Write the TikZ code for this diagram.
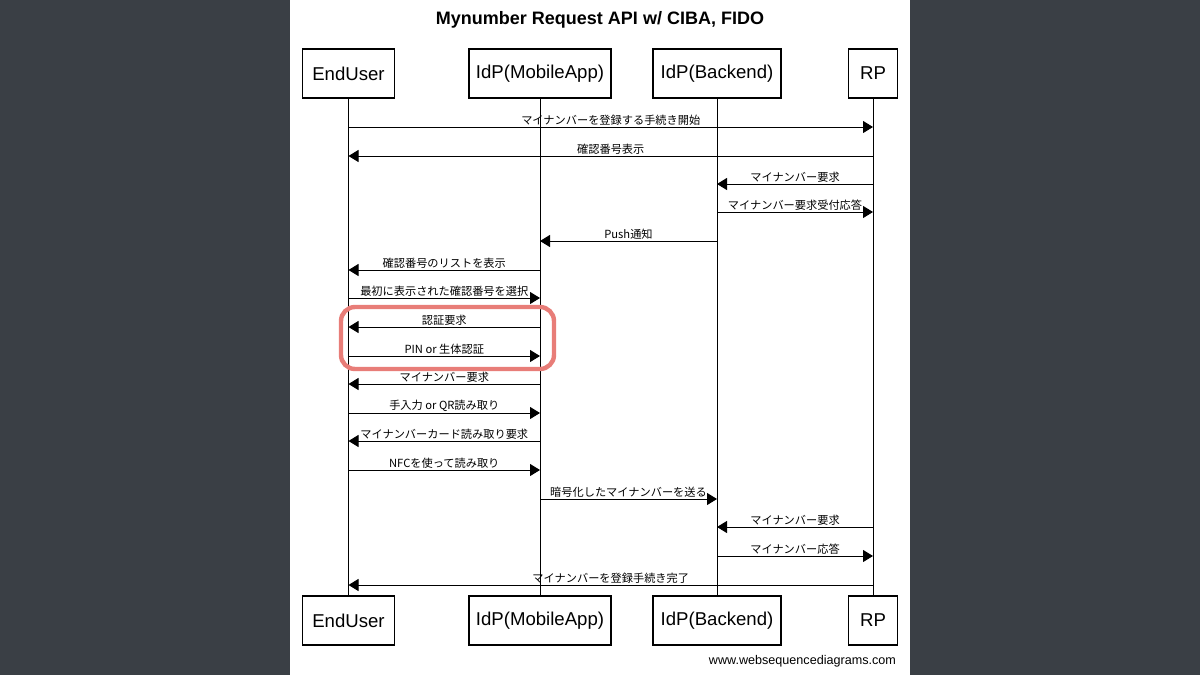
\documentclass[tikz,border=0pt]{standalone}
\usepackage{fontspec}
\setmainfont{Liberation Sans}
\newfontfamily\cjk{Noto Sans CJK JP}
\usetikzlibrary{arrows.meta,positioning}
\definecolor{slate}{RGB}{58,63,69}
\definecolor{hilite}{RGB}{232,125,120}
\tikzset{
  actor/.style={draw, line width=0.6pt, minimum height=24.5pt, inner xsep=1pt, font=\fontsize{9.3}{11}\selectfont},
  lifeline/.style={draw, line width=0.5pt},
  msgline/.style={draw, line width=0.5pt, -{Triangle[length=5pt,width=6pt]}},
  msglabel/.style={font=\cjk\fontsize{5.6}{6}\selectfont, above=-0.5pt, inner sep=1pt}
}
\newcommand{\msg}[4]{%
  \draw[msgline] (#1.south |- 0,#3) -- node[msglabel] {#4} (#2.south |- 0,#3);}
\begin{document}
\begin{tikzpicture}[x=0.5pt, y=-0.5pt]
  % Background
  \fill[slate] (0,0) rectangle (1200,675);
  \fill[white] (290,0) rectangle (910,675);
  \useasboundingbox (0,0) rectangle (1200,675);

  % Title
  \node[font=\bfseries\fontsize{9}{11}\selectfont] (title) at (600,20) {Mynumber Request API w/ CIBA, FIDO};

  % Participants
  \node[actor, minimum width=46pt] (eu) at (348.5,73.5) {EndUser};
  \node[actor, minimum width=71pt] (ma) at (540,73.5) {IdP(MobileApp)};
  \node[actor, minimum width=64pt] (be) at (717,73.5) {IdP(Backend)};
  \node[actor, minimum width=24.5pt] (rp) at (873,73.5) {RP};
  \node[actor, minimum width=46pt] (eu2) at (348.5,620.5) {EndUser};
  \node[actor, minimum width=71pt] (ma2) at (540,620.5) {IdP(MobileApp)};
  \node[actor, minimum width=64pt] (be2) at (717,620.5) {IdP(Backend)};
  \node[actor, minimum width=24.5pt] (rp2) at (873,620.5) {RP};

  % Lifelines
  \foreach \a in {eu, ma, be, rp}
    \draw[lifeline] (\a.south) -- (\a2.north);

  % Messages
  \msg{eu}{rp}{127}{マイナンバーを登録する手続き開始}
  \msg{rp}{eu}{156}{確認番号表示}
  \msg{rp}{be}{184}{マイナンバー要求}
  \msg{be}{rp}{212}{マイナンバー要求受付応答}
  \msg{be}{ma}{241}{Push通知}
  \msg{ma}{eu}{270}{確認番号のリストを表示}
  \msg{eu}{ma}{298}{最初に表示された確認番号を選択}
  \msg{ma}{eu}{327}{認証要求}
  \msg{eu}{ma}{356}{PIN or 生体認証}
  \msg{ma}{eu}{384}{マイナンバー要求}
  \msg{eu}{ma}{413}{手入力 or QR読み取り}
  \msg{ma}{eu}{441}{マイナンバーカード読み取り要求}
  \msg{eu}{ma}{470}{NFCを使って読み取り}
  \msg{ma}{be}{499}{暗号化したマイナンバーを送る}
  \msg{rp}{be}{527}{マイナンバー要求}
  \msg{be}{rp}{556}{マイナンバー応答}
  \msg{rp}{eu}{585}{マイナンバーを登録手続き完了}

  % Highlight
  \draw[hilite, line width=2.2pt, rounded corners=7pt] (341,307) rectangle (554,369);

  % Footer
  \node[anchor=east, font=\fontsize{6.3}{7}\selectfont] (footer) at (903,661) {www.websequencediagrams.com};
\end{tikzpicture}
\end{document}
